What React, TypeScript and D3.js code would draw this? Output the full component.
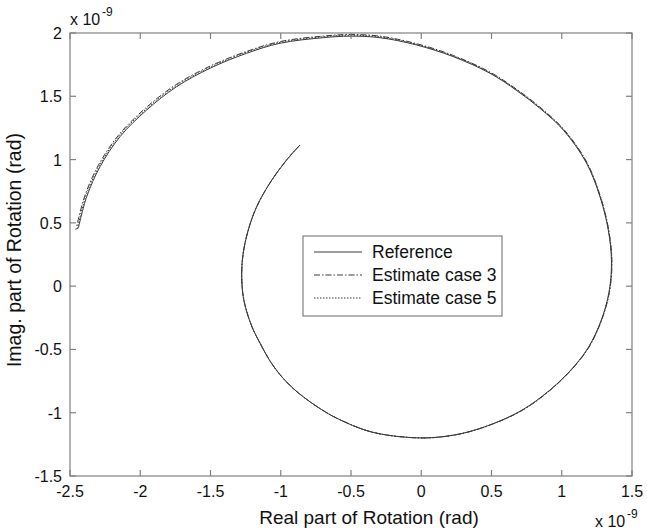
import React from "react";
import * as d3 from "d3";

// Data in units of 1e-9 rad
const reference: [number, number][] = [
  [-0.863, 1.115], [-0.958, 0.997], [-1.077, 0.815], [-1.171, 0.628], [-1.231, 0.444],
  [-1.267, 0.262], [-1.278, 0.104], [-1.267, -0.083], [-1.231, -0.241], [-1.195, -0.346],
  [-1.148, -0.449], [-1.080, -0.585], [-1.005, -0.700], [-0.915, -0.805], [-0.815, -0.895],
  [-0.710, -0.975], [-0.602, -1.043], [-0.365, -1.149], [-0.104, -1.194], [0.110, -1.194],
  [0.360, -1.144], [0.674, -1.006], [0.864, -0.867], [1.052, -0.678], [1.187, -0.488],
  [1.279, -0.275], [1.336, -0.049], [1.354, 0.191], [1.331, 0.444], [1.272, 0.707],
  [1.175, 0.975], [1.012, 1.232], [0.850, 1.400], [0.680, 1.545], [0.489, 1.682],
  [0.228, 1.813], [-0.032, 1.905], [-0.294, 1.963], [-0.507, 1.975], [-0.697, 1.963],
  [-1.005, 1.919], [-1.242, 1.840], [-1.504, 1.721], [-1.741, 1.576], [-1.954, 1.392],
  [-2.144, 1.181], [-2.286, 0.944], [-2.381, 0.707], [-2.441, 0.457],
];

const estimate3: [number, number][] = [
  [-0.863, 1.115], [-0.958, 0.997], [-1.077, 0.815], [-1.171, 0.628], [-1.231, 0.444],
  [-1.267, 0.262], [-1.278, 0.104], [-1.267, -0.083], [-1.231, -0.241], [-1.195, -0.346],
  [-1.148, -0.449], [-1.080, -0.585], [-1.005, -0.700], [-0.915, -0.805], [-0.815, -0.895],
  [-0.710, -0.975], [-0.602, -1.043], [-0.365, -1.149], [-0.104, -1.194], [0.110, -1.195],
  [0.360, -1.145], [0.675, -1.008], [0.866, -0.869], [1.054, -0.679], [1.190, -0.489],
  [1.282, -0.275], [1.339, -0.049], [1.357, 0.191], [1.334, 0.445], [1.275, 0.709],
  [1.179, 0.978], [1.016, 1.237], [0.854, 1.406], [0.683, 1.552], [0.491, 1.690],
  [0.229, 1.822], [-0.031, 1.915], [-0.294, 1.975], [-0.507, 1.988], [-0.697, 1.976],
  [-1.006, 1.932], [-1.247, 1.853], [-1.511, 1.734], [-1.750, 1.589], [-1.965, 1.404],
  [-2.156, 1.191], [-2.299, 0.953], [-2.395, 0.712], [-2.458, 0.445],
];

const estimate5: [number, number][] = [
  [-0.863, 1.115], [-0.958, 0.997], [-1.077, 0.815], [-1.171, 0.628], [-1.231, 0.444],
  [-1.267, 0.262], [-1.278, 0.104], [-1.267, -0.083], [-1.231, -0.241], [-1.195, -0.346],
  [-1.148, -0.449], [-1.080, -0.585], [-1.005, -0.700], [-0.915, -0.805], [-0.815, -0.895],
  [-0.710, -0.975], [-0.602, -1.043], [-0.365, -1.149], [-0.104, -1.194], [0.110, -1.195],
  [0.360, -1.145], [0.675, -1.007], [0.865, -0.868], [1.053, -0.679], [1.189, -0.488],
  [1.281, -0.275], [1.338, -0.049], [1.356, 0.191], [1.333, 0.444], [1.274, 0.708],
  [1.177, 0.976], [1.014, 1.235], [0.852, 1.403], [0.682, 1.549], [0.490, 1.686],
  [0.229, 1.818], [-0.031, 1.910], [-0.294, 1.969], [-0.507, 1.982], [-0.697, 1.970],
  [-1.005, 1.926], [-1.244, 1.847], [-1.507, 1.728], [-1.745, 1.583], [-1.959, 1.398],
  [-2.150, 1.187], [-2.292, 0.949], [-2.388, 0.709], [-2.450, 0.440],
];

const xTicks = [-2.5, -2, -1.5, -1, -0.5, 0, 0.5, 1, 1.5];
const yTicks = [-1.5, -1, -0.5, 0, 0.5, 1, 1.5, 2];
const legendLabels = ["Reference", "Estimate case 3", "Estimate case 5"];

const W = 647;
const H = 532;
const left = 70, right = 632, top = 33, bottom = 476;
const FONT = "'Liberation Sans', Arial, Helvetica, sans-serif";

export default function App() {
  const x = d3.scaleLinear().domain([-2.5, 1.5]).range([left, right]);
  const y = d3.scaleLinear().domain([-1.5, 2]).range([bottom, top]);
  const line = d3
    .line<[number, number]>()
    .x((d) => x(d[0]))
    .y((d) => y(d[1]))
    .curve(d3.curveCatmullRom.alpha(0.5));

  const series = [
    { data: reference, dash: "none" },
    { data: estimate3, dash: "6,2,1.5,2" },
    { data: estimate5, dash: "1.5,1.5" },
  ];
  const axisColor = "#808080";
  const lineColor = "#3a3a3a";
  const tickLen = 6;
  const fmt = (v: number) => String(v);

  const lg = { x: 303, y: 236, w: 199, h: 80 };
  const rowY = [252, 275, 298];

  return (
    <svg
      width={W}
      height={H}
      style={{ position: "absolute", left: 0, top: 0, background: "#fff" }}
      fontFamily={FONT}
    >
      <rect x={0} y={0} width={W} height={H} fill="#fff" />
      {series.map((s, i) => (
        <path
          key={i}
          d={line(s.data) || ""}
          fill="none"
          stroke={lineColor}
          strokeWidth={1}
          strokeDasharray={s.dash}
        />
      ))}
      <rect
        x={left}
        y={top}
        width={right - left}
        height={bottom - top}
        fill="none"
        stroke={axisColor}
        strokeWidth={1.2}
      />
      {xTicks.map((t) => (
        <g key={"x" + t}>
          <line x1={x(t)} x2={x(t)} y1={bottom} y2={bottom - tickLen} stroke={axisColor} strokeWidth={1.2} />
          <line x1={x(t)} x2={x(t)} y1={top} y2={top + tickLen} stroke={axisColor} strokeWidth={1.2} />
          <text x={x(t)} y={497} fontSize={16} textAnchor="middle" fill="#111">
            {fmt(t)}
          </text>
        </g>
      ))}
      {yTicks.map((t) => (
        <g key={"y" + t}>
          <line x1={left} x2={left + tickLen} y1={y(t)} y2={y(t)} stroke={axisColor} strokeWidth={1.2} />
          <line x1={right} x2={right - tickLen} y1={y(t)} y2={y(t)} stroke={axisColor} strokeWidth={1.2} />
          <text x={62} y={y(t) + 6} fontSize={16} textAnchor="end" fill="#111">
            {fmt(t)}
          </text>
        </g>
      ))}
      <text x={70} y={25} fontSize={16} fill="#111">x 10</text>
      <text x={102} y={16} fontSize={12} fill="#111">-9</text>
      <text x={595} y={527} fontSize={16} fill="#111">x 10</text>
      <text x={627} y={518} fontSize={12} fill="#111">-9</text>
      <text x={369} y={524} fontSize={19} textAnchor="middle" fill="#111">
        Real part of Rotation (rad)
      </text>
      <text
        transform={`translate(21, 250) rotate(-90)`}
        fontSize={19.5}
        textAnchor="middle"
        fill="#111"
      >
        Imag. part of Rotation (rad)
      </text>
      <rect x={lg.x} y={lg.y} width={lg.w} height={lg.h} fill="#fff" stroke={axisColor} strokeWidth={1.2} />
      {legendLabels.map((l, i) => (
        <g key={l}>
          <line
            x1={314}
            x2={362}
            y1={rowY[i]}
            y2={rowY[i]}
            stroke={lineColor}
            strokeWidth={1}
            strokeDasharray={series[i].dash}
          />
          <text x={372} y={rowY[i] + 6} fontSize={17.5} fill="#111">
            {l}
          </text>
        </g>
      ))}
    </svg>
  );
}
